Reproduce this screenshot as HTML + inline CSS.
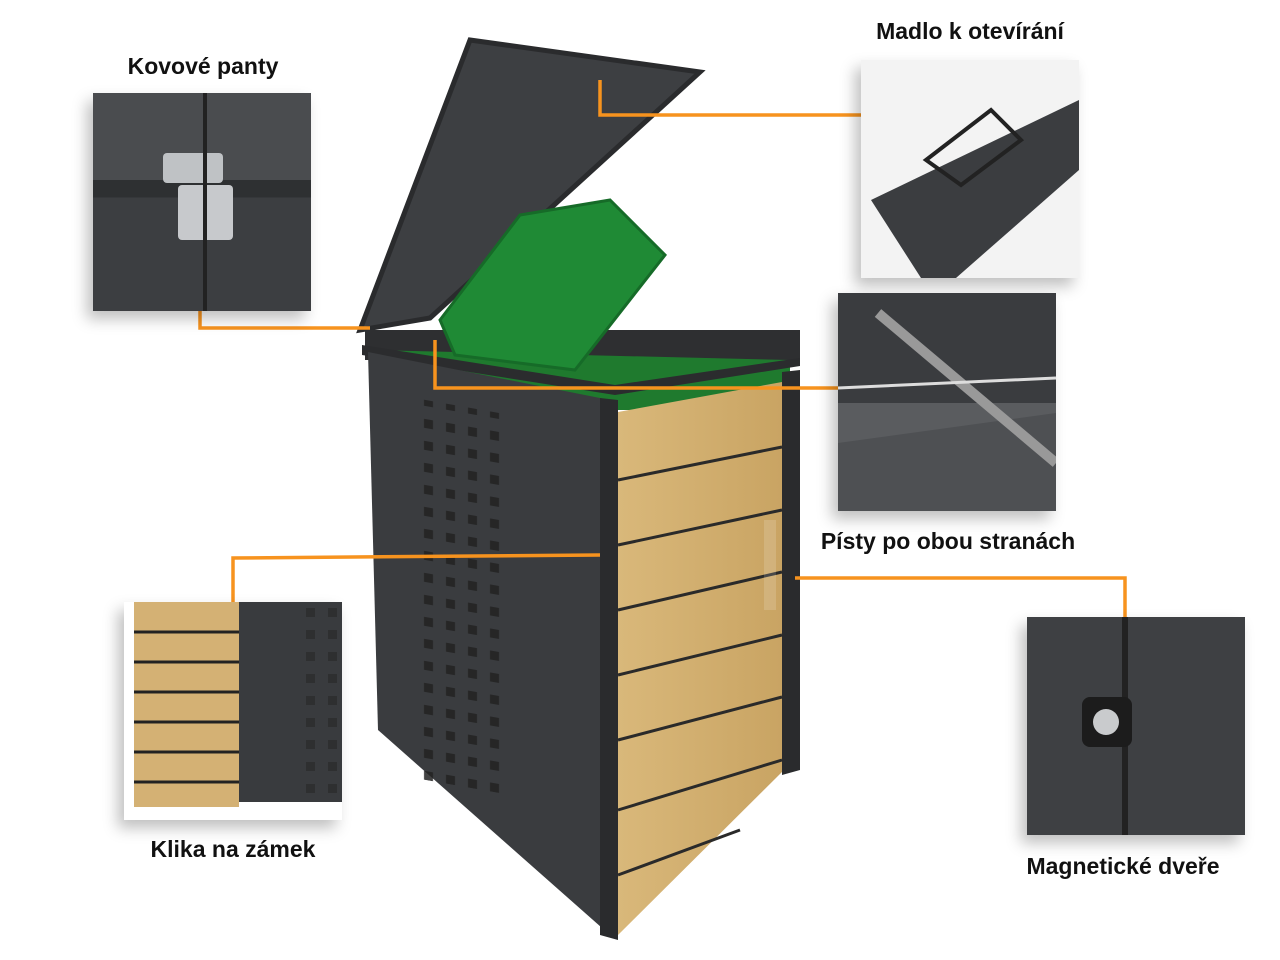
<!DOCTYPE html>
<html><head><meta charset="utf-8"><style>
html,body{margin:0;padding:0;background:#fff;}
#c{position:relative;width:1280px;height:960px;overflow:hidden;background:#fff;font-family:"Liberation Sans",sans-serif;}
.lbl{position:absolute;font-weight:bold;font-size:23px;color:#111;white-space:nowrap;transform:translateX(-50%);}
.box{position:absolute;width:218px;height:218px;overflow:hidden;box-shadow:-6px 8px 14px rgba(0,0,0,0.25);}
</style></head><body><div id="c">
<svg width="1280" height="960" style="position:absolute;left:0;top:0">
<defs>
<linearGradient id="wood" x1="0" y1="0" x2="1" y2="0"><stop offset="0" stop-color="#d9b87a"/><stop offset="1" stop-color="#c9a463"/></linearGradient>
<pattern id="holes" width="22" height="22" patternUnits="userSpaceOnUse"><rect x="6" y="6" width="9" height="9" fill="#222"/></pattern>
</defs>
<polygon points="470,40 700,72 430,318 360,330" fill="#3d3f42" stroke="#2a2b2d" stroke-width="5"/>
<polygon points="365,330 800,330 800,360 365,360" fill="#2e2f31"/>
<polygon points="370,350 790,360 790,410 615,410 370,355" fill="#1f7a2e"/>
<polygon points="440,320 520,215 610,200 665,255 575,370 455,355" fill="#1f8a35" stroke="#166b28" stroke-width="3"/>
<polygon points="362,345 615,385 800,358 800,366 615,395 362,355" fill="#2b2c2e"/>
<polygon points="368,352 610,400 610,935 378,730" fill="#3a3c3f"/>
<rect x="420" y="405" width="90" height="380" fill="url(#holes)" opacity="0.85" transform="skewY(10) translate(0,-80)"/>
<polygon points="600,398 618,400 618,940 600,935" fill="#2a2b2d"/>
<polygon points="782,372 800,370 800,770 782,775" fill="#2a2b2d"/>
<polygon points="618,412 782,382 782,772 618,935" fill="url(#wood)"/>
<g stroke="#2a2a2a" stroke-width="3">
<line x1="618" y1="480" x2="782" y2="447"/>
<line x1="618" y1="545" x2="782" y2="510"/>
<line x1="618" y1="610" x2="782" y2="572"/>
<line x1="618" y1="675" x2="782" y2="635"/>
<line x1="618" y1="740" x2="782" y2="697"/>
<line x1="618" y1="810" x2="782" y2="760"/>
<line x1="618" y1="875" x2="740" y2="830"/>
</g>
<rect x="764" y="520" width="12" height="90" fill="#ffffff" opacity="0.15"/>
<g stroke="#f7931e" stroke-width="3.5" fill="none">
<polyline points="200,275 200,328 370,328"/>
<polyline points="600,80 600,115 945,115"/>
<polyline points="435,340 435,388 910,388"/>
<polyline points="233,635 233,558 600,555"/>
<polyline points="795,578 1125,578 1125,685"/>
</g>
</svg>
<div class="box" style="left:93px;top:93px;background:linear-gradient(#4a4c4f 0 40%,#2e3032 40% 48%,#3c3e41 48%)">
<div style="position:absolute;left:70px;top:60px;width:60px;height:30px;background:#bfc2c5;border-radius:4px"></div>
<div style="position:absolute;left:85px;top:92px;width:55px;height:55px;background:#c7c9cc;border-radius:4px"></div>
<div style="position:absolute;left:110px;top:0;width:4px;height:218px;background:#222"></div>
</div>
<div class="box" style="left:861px;top:60px;background:#f3f3f3">
<svg width="218" height="218"><polygon points="10,140 218,40 218,110 95,218 60,218" fill="#3b3d40"/><polygon points="65,100 130,50 160,80 100,125" fill="none" stroke="#222" stroke-width="4"/></svg>
</div>
<div class="box" style="left:838px;top:293px;background:#5a5c5f">
<svg width="218" height="218"><rect width="218" height="110" fill="#3a3c3f"/><polygon points="0,150 218,120 218,218 0,218" fill="#4e5053"/><line x1="40" y1="20" x2="218" y2="170" stroke="#999" stroke-width="10"/><line x1="0" y1="95" x2="218" y2="85" stroke="#ddd" stroke-width="3"/></svg>
</div>
<div class="box" style="left:124px;top:602px;background:#fff">
<svg width="218" height="218"><rect x="10" y="0" width="105" height="205" fill="#d4b174"/><g stroke="#222" stroke-width="3"><line x1="10" y1="30" x2="115" y2="30"/><line x1="10" y1="60" x2="115" y2="60"/><line x1="10" y1="90" x2="115" y2="90"/><line x1="10" y1="120" x2="115" y2="120"/><line x1="10" y1="150" x2="115" y2="150"/><line x1="10" y1="180" x2="115" y2="180"/></g><rect x="115" y="0" width="103" height="200" fill="#393b3e"/><rect x="180" y="0" width="38" height="200" fill="url(#holes)" opacity="0.5"/></svg>
</div>
<div class="box" style="left:1027px;top:617px;background:#3e4043">
<div style="position:absolute;left:95px;top:0;width:6px;height:218px;background:#222"></div>
<div style="position:absolute;left:55px;top:80px;width:50px;height:50px;background:#1c1c1c;border-radius:8px"></div>
<div style="position:absolute;left:66px;top:92px;width:26px;height:26px;background:#c9cbcd;border-radius:50%"></div>
</div>
<div class="lbl" style="left:203px;top:53px">Kovové panty</div>
<div class="lbl" style="left:970px;top:18px">Madlo k otevírání</div>
<div class="lbl" style="left:948px;top:528px">Písty po obou stranách</div>
<div class="lbl" style="left:233px;top:836px">Klika na zámek</div>
<div class="lbl" style="left:1123px;top:853px">Magnetické dveře</div>
</div></body></html>
